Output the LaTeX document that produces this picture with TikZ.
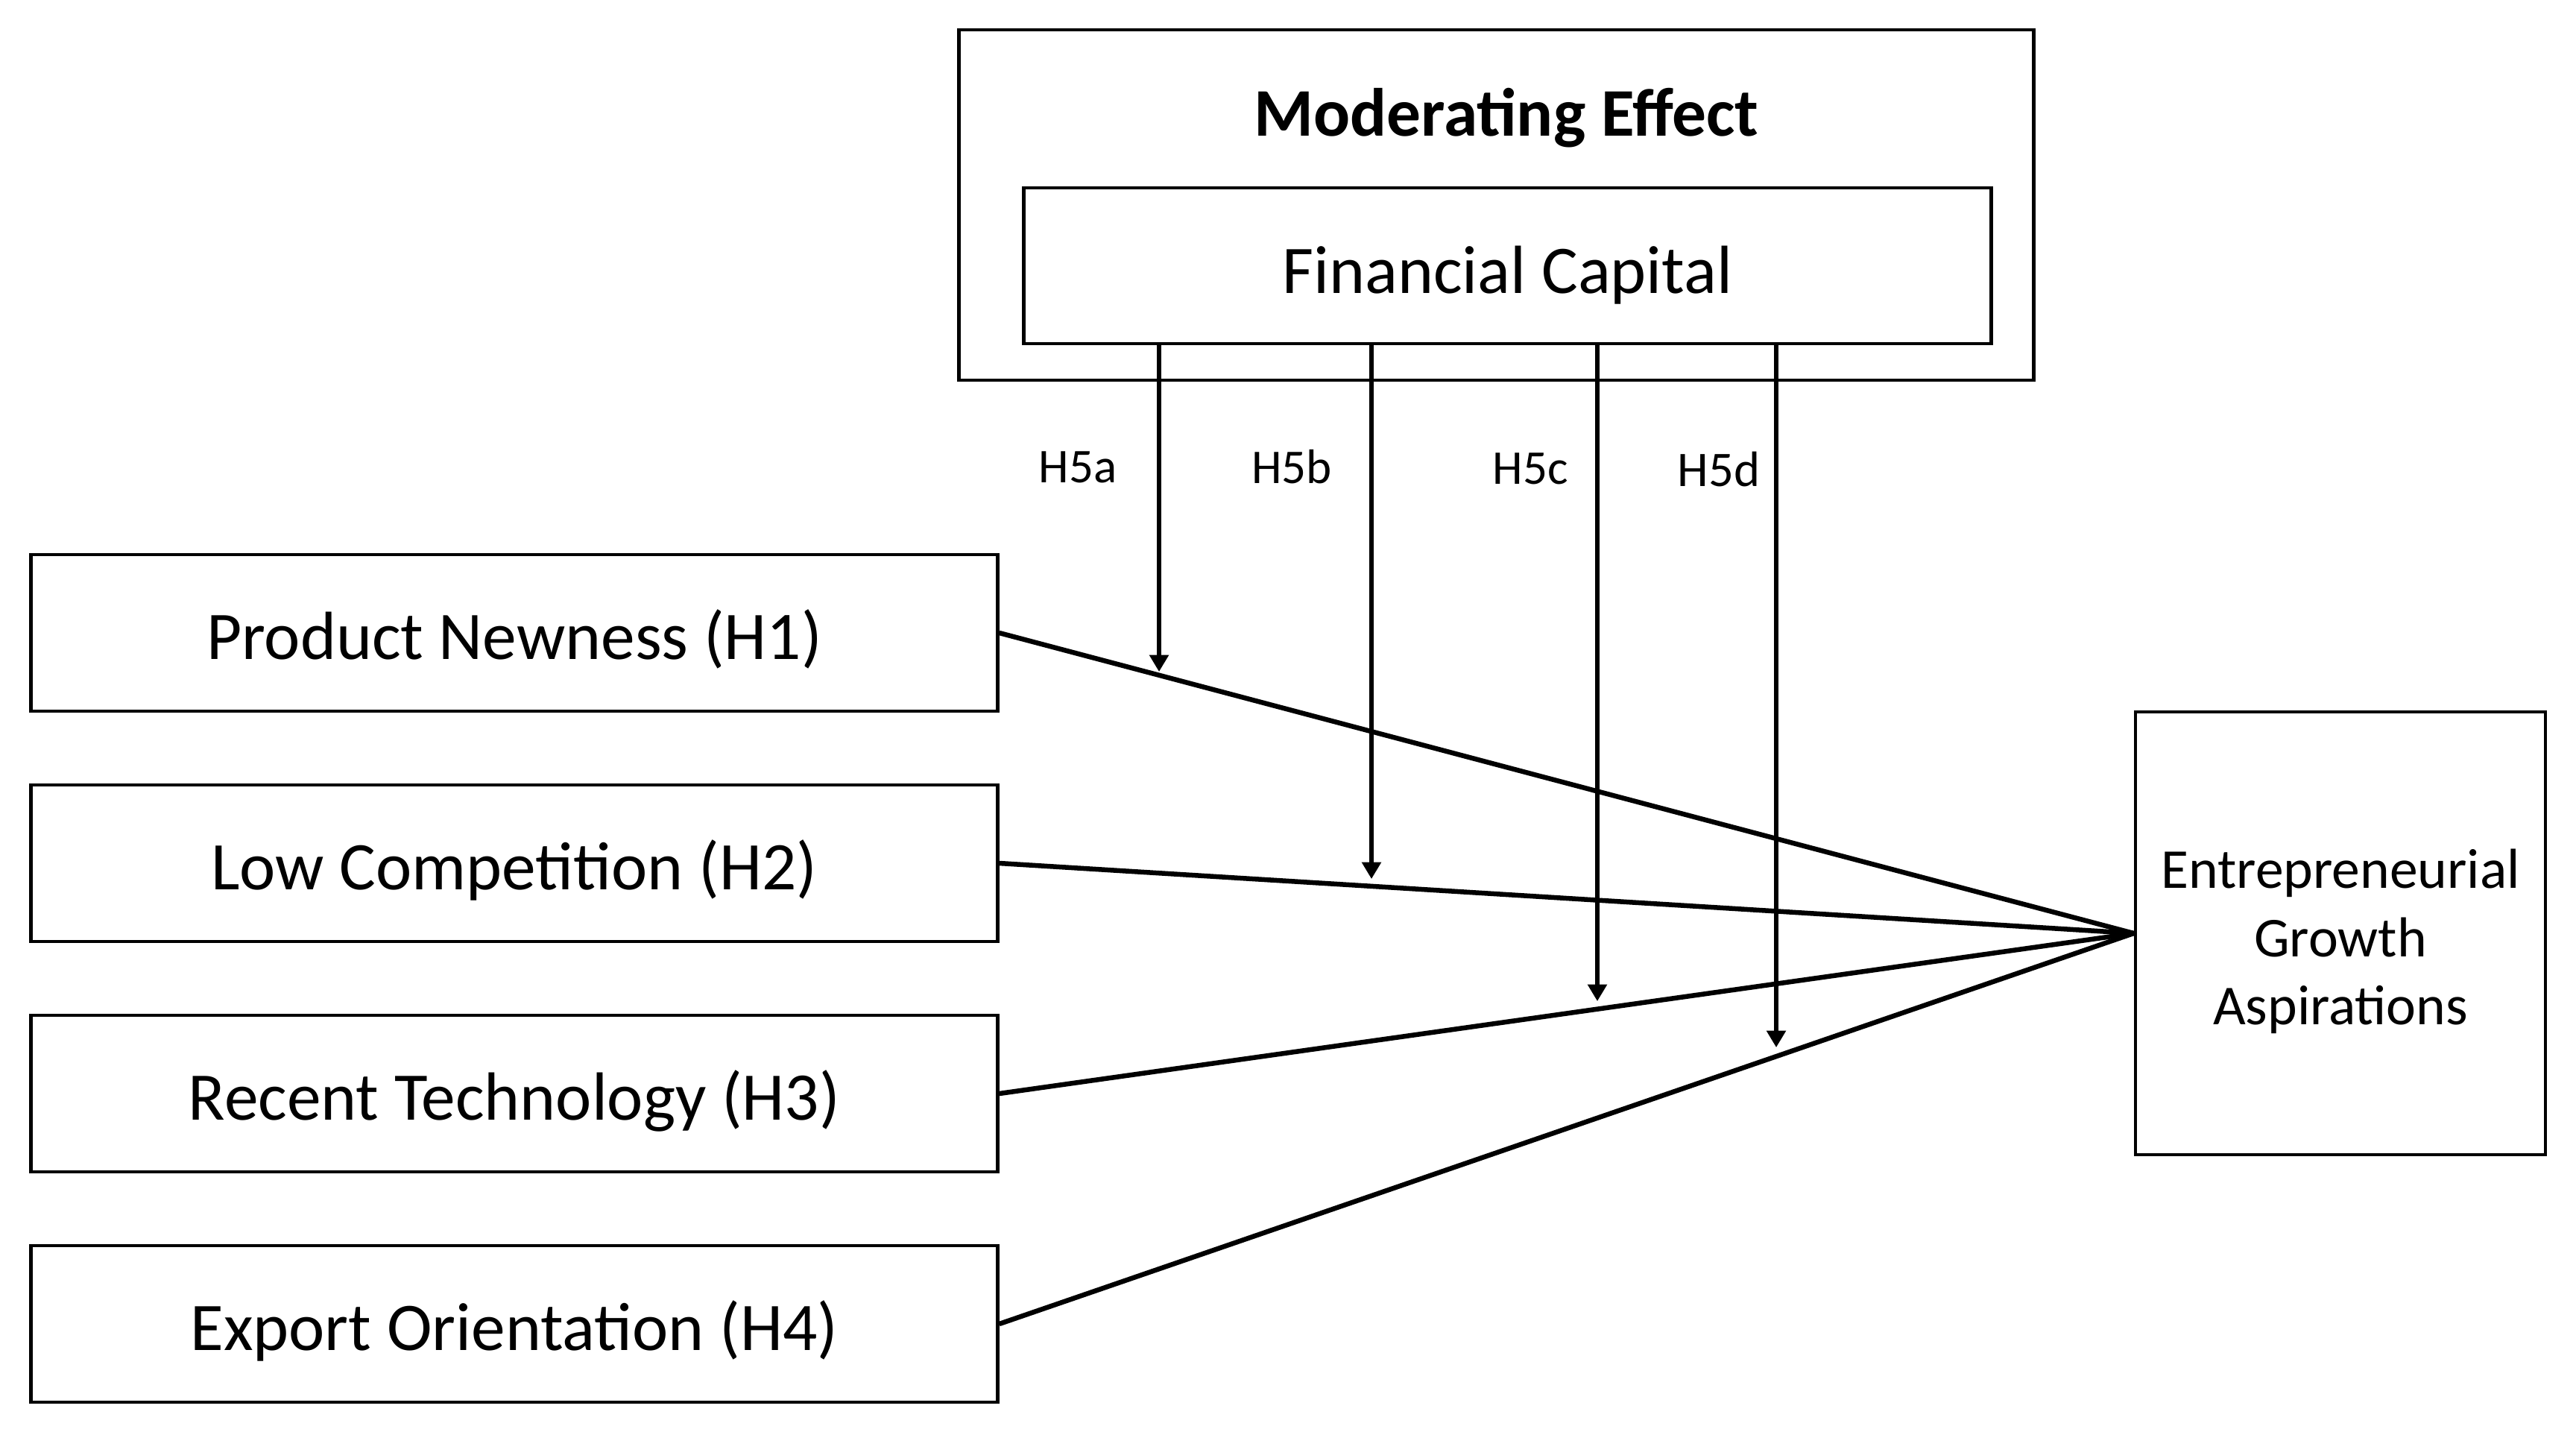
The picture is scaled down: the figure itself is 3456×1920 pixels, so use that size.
\documentclass[tikz,border=0pt]{standalone}
\usepackage{fontspec}
\setmainfont{Carlito}
\usetikzlibrary{arrows.meta}
\begin{document}
\begin{tikzpicture}[x=0.01cm,y=-0.01cm,
  box/.style={draw, line width=1.3pt, rectangle, inner sep=0pt},
  bigtext/.style={font=\fontsize{26}{31}\selectfont},
  predbox/.style={box, bigtext, minimum width=12.96cm, minimum height=2.10cm,
                  text height=20.1pt, text depth=0pt},
  hlabel/.style={font=\fontsize{18.5}{22}\selectfont, anchor=base, inner sep=0pt},
  conn/.style={line width=1.85pt},
  arr/.style={line width=1.45pt, -{Triangle[width=7.2pt,length=6.4pt]}}
]
% canvas
\path[fill=white] (0,0) rectangle (3456,1920);
\useasboundingbox (0,0) rectangle (3456,1920);

% moderator
\node[box, minimum width=14.41cm, minimum height=4.70cm] (me) at (2007.5,275) {};
\node[font=\bfseries\fontsize{26}{31}\selectfont, anchor=base, inner sep=0pt] (met) at (2021,182) {Moderating Effect};
\node[box, bigtext, minimum width=12.97cm, minimum height=2.09cm,
      text height=21.3pt, text depth=0pt] (fc) at (2022.5,356.5) {Financial Capital};

% predictors
\node[predbox] (p1) at (690,849) {Product Newness (H1)};
\node[predbox] (p2) at (690,1158) {Low Competition (H2)};
\node[predbox] (p3) at (690,1467) {Recent Technology (H3)};
\node[predbox] (p4) at (690,1776) {Export Orientation (H4)};

% outcome
\node[box, align=center, font=\fontsize{21.5}{26}\selectfont, minimum width=5.50cm, minimum height=5.94cm,
      text height=69.8pt, text depth=0pt] (eg) at (3140,1252)
  {Entrepreneurial\\Growth\\Aspirations};

% direct paths
\draw[conn] (p1.east) -- (eg.west);
\draw[conn] (p2.east) -- (eg.west);
\draw[conn] (p3.east) -- (eg.west);
\draw[conn] (p4.east) -- (eg.west);

% moderating arrows
\coordinate (t1) at (1555,901);
\coordinate (t2) at (1840,1179);
\coordinate (t3) at (2143,1343);
\coordinate (t4) at (2383,1405);
\draw[arr] (t1 |- fc.south) -- (t1);
\draw[arr] (t2 |- fc.south) -- (t2);
\draw[arr] (t3 |- fc.south) -- (t3);
\draw[arr] (t4 |- fc.south) -- (t4);

% labels
\node[hlabel] (h5a) at (1446,647) {H5a};
\node[hlabel] (h5b) at (1733,648) {H5b};
\node[hlabel] (h5c) at (2053,649) {H5c};
\node[hlabel, font=\fontsize{19}{22}\selectfont] (h5d) at (2306,652) {H5d};
\end{tikzpicture}
\end{document}
